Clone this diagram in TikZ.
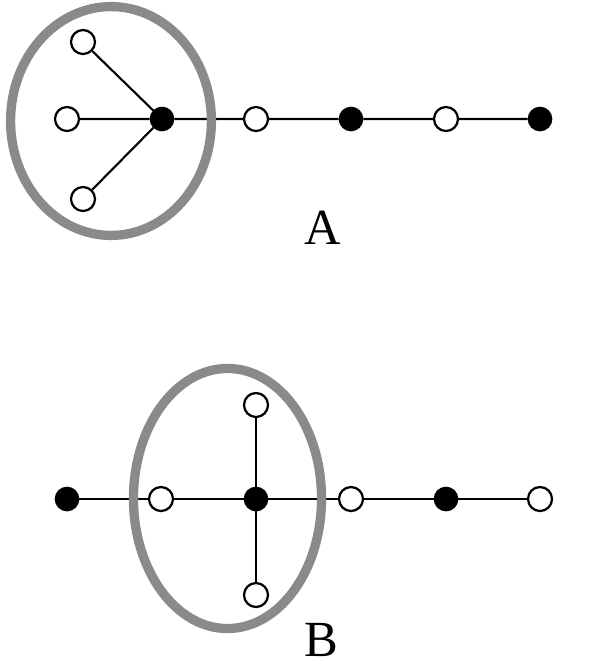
\documentclass[tikz,border=0pt]{standalone}
\usepackage{fontspec}
\setmainfont{Liberation Serif}
\usetikzlibrary{positioning}
\definecolor{ringgray}{HTML}{8A8A8A}

\begin{document}
\begin{tikzpicture}[x=0.025cm, y=-0.025cm,
  vtx/.style={circle, draw=black, line width=1.6pt, minimum size=0.6cm, inner sep=0pt},
  wht/.style={vtx, fill=white},
  blk/.style={vtx, fill=black, minimum size=0.56cm},
  edge/.style={line width=1.5pt},
  ring/.style={draw=ringgray, line width=6.6pt},
  glbl/.style={font=\fontsize{36}{40}\selectfont, inner sep=0pt}
]
  \useasboundingbox (0,0) rectangle (596,672);

  % --- graph A ---
  \node[blk] (ac) at (162,119) {};
  \node[wht] (au) at (83,42) {};
  \node[wht] (al) at (67,119) {};
  \node[wht] (ad) at (83,199) {};
  \foreach \i/\x/\s in {1/256/wht,2/351/blk,3/446/wht,4/540/blk} {\node[\s] (a\i) at (\x,119) {};}
  \draw[edge] (au) -- (ac) (al) -- (ac) (ad) -- (ac) (ac) -- (a1) -- (a2) -- (a3) -- (a4);
  \draw[ring] (111,121) ellipse [x radius=2.51cm, y radius=2.86cm];
  \node[glbl] (labA) at (323,228) {A};

  % --- graph B ---
  \node[blk] (bc) at (256,499) {};
  \node[wht] (bu) at (256,405) {};
  \node[wht] (bd) at (256,595) {};
  \node[blk] (b0) at (67,499) {};
  \node[wht] (bl) at (161,499) {};
  \foreach \i/\x/\s in {1/351/wht,2/446/blk,3/540/wht} {\node[\s] (b\i) at (\x,499) {};}
  \draw[edge] (b0) -- (bl) -- (bc) -- (b1) -- (b2) -- (b3) (bu) -- (bc) -- (bd);
  \draw[ring] (227.5,498.5) ellipse [x radius=2.35cm, y radius=3.25cm];
  \node[glbl] (labB) at (321,640) {B};
\end{tikzpicture}
\end{document}
